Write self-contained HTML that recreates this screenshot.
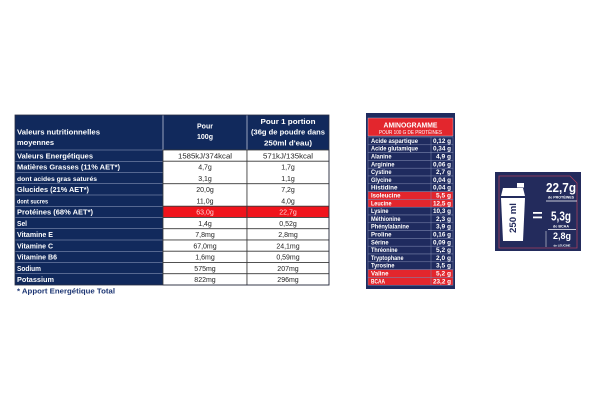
<!DOCTYPE html>
<html>
<head>
<meta charset="utf-8">
<style>
  html,body{margin:0;padding:0;background:#ffffff;}
  body{width:600px;height:408px;overflow:hidden;}
  svg{display:block;}
  text{font-family:"Liberation Sans", Arial, sans-serif;}
</style>
</head>
<body>
<svg width="600" height="408" viewBox="0 0 600 408" xmlns="http://www.w3.org/2000/svg">
  <rect x="0" y="0" width="600" height="408" fill="#ffffff"/>

  <!-- ============ LEFT NUTRITION TABLE ============ -->
  <!-- label column navy -->
  <rect x="15" y="115" width="148" height="170" fill="#11295c"/>
  <!-- header navy -->
  <rect x="15" y="115" width="314" height="35" fill="#11295c"/>
  <line x1="163" y1="115" x2="163" y2="150" stroke="#b9c0d6" stroke-width="0.8"/>
  <line x1="247" y1="115" x2="247" y2="150" stroke="#b9c0d6" stroke-width="0.8"/>

  <!-- label row separators -->
  <g stroke="#9aa6c6" stroke-width="0.6">
    <line x1="15" y1="150" x2="163" y2="150"/>
    <line x1="15" y1="161.25" x2="163" y2="161.25"/>
    <line x1="15" y1="172.5" x2="163" y2="172.5"/>
    <line x1="15" y1="183.75" x2="163" y2="183.75"/>
    <line x1="15" y1="195" x2="163" y2="195"/>
    <line x1="15" y1="206.25" x2="163" y2="206.25"/>
    <line x1="15" y1="217.5" x2="163" y2="217.5"/>
    <line x1="15" y1="228.75" x2="163" y2="228.75"/>
    <line x1="15" y1="240" x2="163" y2="240"/>
    <line x1="15" y1="251.25" x2="163" y2="251.25"/>
    <line x1="15" y1="262.5" x2="163" y2="262.5"/>
    <line x1="15" y1="273.75" x2="163" y2="273.75"/>
  </g>

  <!-- value cells -->
  <g stroke="#3a3a3a" stroke-width="0.8" fill="#ffffff">
    <rect x="163" y="150" width="84" height="11.25"/>
    <rect x="247" y="150" width="82" height="11.25"/>
    <rect x="163" y="161.25" width="84" height="22.5"/>
    <rect x="247" y="161.25" width="82" height="22.5"/>
    <rect x="163" y="183.75" width="84" height="22.5"/>
    <rect x="247" y="183.75" width="82" height="22.5"/>
    <rect x="163" y="206.25" width="84" height="11.25" fill="#f0141c"/>
    <rect x="247" y="206.25" width="82" height="11.25" fill="#f0141c"/>
    <rect x="163" y="217.5" width="84" height="11.25"/>
    <rect x="247" y="217.5" width="82" height="11.25"/>
    <rect x="163" y="228.75" width="84" height="11.25"/>
    <rect x="247" y="228.75" width="82" height="11.25"/>
    <rect x="163" y="240" width="84" height="11.25"/>
    <rect x="247" y="240" width="82" height="11.25"/>
    <rect x="163" y="251.25" width="84" height="11.25"/>
    <rect x="247" y="251.25" width="82" height="11.25"/>
    <rect x="163" y="262.5" width="84" height="11.25"/>
    <rect x="247" y="262.5" width="82" height="11.25"/>
    <rect x="163" y="273.75" width="84" height="11.25"/>
    <rect x="247" y="273.75" width="82" height="11.25"/>
  </g>
  <rect x="15" y="115" width="314" height="170" fill="none" stroke="#2a2f45" stroke-width="0.8"/>

  <!-- header text -->
  <g fill="#ffffff" font-weight="bold" font-size="7">
    <text x="17" y="134.5" textLength="83" lengthAdjust="spacingAndGlyphs">Valeurs nutritionnelles</text>
    <text x="17" y="145" textLength="37" lengthAdjust="spacingAndGlyphs">moyennes</text>
    <text x="205" y="128.5" text-anchor="middle">Pour</text>
    <text x="205" y="139" text-anchor="middle">100g</text>
    <text x="288" y="124" text-anchor="middle" textLength="55" lengthAdjust="spacingAndGlyphs">Pour 1 portion</text>
    <text x="288" y="134.5" text-anchor="middle" textLength="74" lengthAdjust="spacingAndGlyphs">(36g de poudre dans</text>
    <text x="288" y="145.5" text-anchor="middle" textLength="48" lengthAdjust="spacingAndGlyphs">250ml d'eau)</text>
  </g>

  <!-- label text -->
  <g fill="#ffffff" font-weight="bold" font-size="7">
    <text x="17" y="158.3" textLength="76" lengthAdjust="spacingAndGlyphs">Valeurs Energétiques</text>
    <text x="17" y="169.55" textLength="103" lengthAdjust="spacingAndGlyphs">Matières Grasses (11% AET*)</text>
    <text x="17" y="180.8" font-size="6.2" textLength="80" lengthAdjust="spacingAndGlyphs">dont acides gras saturés</text>
    <text x="17" y="192.05" textLength="72" lengthAdjust="spacingAndGlyphs">Glucides (21% AET*)</text>
    <text x="17" y="203.3" font-size="6.2" textLength="31" lengthAdjust="spacingAndGlyphs">dont sucres</text>
    <text x="17" y="214.55" textLength="76" lengthAdjust="spacingAndGlyphs">Protéines (68% AET*)</text>
    <text x="17" y="225.8" textLength="10" lengthAdjust="spacingAndGlyphs">Sel</text>
    <text x="17" y="237.05" textLength="36" lengthAdjust="spacingAndGlyphs">Vitamine E</text>
    <text x="17" y="248.3" textLength="36" lengthAdjust="spacingAndGlyphs">Vitamine C</text>
    <text x="17" y="259.55" textLength="40" lengthAdjust="spacingAndGlyphs">Vitamine B6</text>
    <text x="17" y="270.8" textLength="24" lengthAdjust="spacingAndGlyphs">Sodium</text>
    <text x="17" y="282.05" textLength="37" lengthAdjust="spacingAndGlyphs">Potassium</text>
  </g>

  <!-- values -->
  <g fill="#222222" font-size="7" text-anchor="middle">
    <text x="205" y="158.3" textLength="54" lengthAdjust="spacingAndGlyphs">1585kJ/374kcal</text>
    <text x="288" y="158.3" textLength="50" lengthAdjust="spacingAndGlyphs">571kJ/135kcal</text>
    <text x="205" y="169.55">4,7g</text>
    <text x="288" y="169.55">1,7g</text>
    <text x="205" y="180.8">3,1g</text>
    <text x="288" y="180.8">1,1g</text>
    <text x="205" y="192.05">20,0g</text>
    <text x="288" y="192.05">7,2g</text>
    <text x="205" y="203.3">11,0g</text>
    <text x="288" y="203.3">4,0g</text>
    <text x="205" y="214.55" fill="#ffd6d6">63,0g</text>
    <text x="288" y="214.55" fill="#ffd6d6">22,7g</text>
    <text x="205" y="225.8">1,4g</text>
    <text x="288" y="225.8">0,52g</text>
    <text x="205" y="237.05">7,8mg</text>
    <text x="288" y="237.05">2,8mg</text>
    <text x="205" y="248.3">67,0mg</text>
    <text x="288" y="248.3">24,1mg</text>
    <text x="205" y="259.55">1,6mg</text>
    <text x="288" y="259.55">0,59mg</text>
    <text x="205" y="270.8">575mg</text>
    <text x="288" y="270.8">207mg</text>
    <text x="205" y="282.05">822mg</text>
    <text x="288" y="282.05">296mg</text>
  </g>

  <!-- footnote -->
  <text x="17" y="293.5" fill="#1b3472" font-weight="bold" font-size="7" textLength="98" lengthAdjust="spacingAndGlyphs">* Apport Energétique Total</text>

  <!-- ============ AMINOGRAMME ============ -->
  <rect x="366" y="113" width="89" height="176" fill="#1f2b5f"/>
  <rect x="368" y="118" width="85" height="18" fill="#e3262d" stroke="#c9cde0" stroke-width="0.4"/>
  <text x="410.5" y="127.3" text-anchor="middle" fill="#ffffff" font-weight="bold" font-size="7.5" textLength="54" lengthAdjust="spacingAndGlyphs">AMINOGRAMME</text>
  <text x="410.5" y="134" text-anchor="middle" fill="#ffffff" font-size="5" textLength="63" lengthAdjust="spacingAndGlyphs">POUR 100 G DE PROTÉINES</text>

  <!-- rows -->
  <g stroke="#7d86ad" stroke-width="0.5">
    <rect x="368" y="137" width="85" height="7.8" fill="#1f2b5f"/>
    <rect x="368" y="144.8" width="85" height="7.8" fill="#1f2b5f"/>
    <rect x="368" y="152.6" width="85" height="7.8" fill="#1f2b5f"/>
    <rect x="368" y="160.4" width="85" height="7.8" fill="#1f2b5f"/>
    <rect x="368" y="168.2" width="85" height="7.8" fill="#1f2b5f"/>
    <rect x="368" y="176" width="85" height="7.8" fill="#1f2b5f"/>
    <rect x="368" y="183.8" width="85" height="7.8" fill="#1f2b5f"/>
    <rect x="368" y="191.6" width="85" height="7.8" fill="#e3262d"/>
    <rect x="368" y="199.4" width="85" height="7.8" fill="#e3262d"/>
    <rect x="368" y="207.2" width="85" height="7.8" fill="#1f2b5f"/>
    <rect x="368" y="215" width="85" height="7.8" fill="#1f2b5f"/>
    <rect x="368" y="222.8" width="85" height="7.8" fill="#1f2b5f"/>
    <rect x="368" y="230.6" width="85" height="7.8" fill="#1f2b5f"/>
    <rect x="368" y="238.4" width="85" height="7.8" fill="#1f2b5f"/>
    <rect x="368" y="246.2" width="85" height="7.8" fill="#1f2b5f"/>
    <rect x="368" y="254" width="85" height="7.8" fill="#1f2b5f"/>
    <rect x="368" y="261.8" width="85" height="7.8" fill="#1f2b5f"/>
    <rect x="368" y="269.6" width="85" height="7.8" fill="#e3262d"/>
    <rect x="368" y="277.4" width="85" height="7.8" fill="#e3262d"/>
    <line x1="431" y1="137" x2="431" y2="285.2"/>
  </g>

  <g fill="#ffffff" font-weight="bold" font-size="6">
    <text x="371" y="142.9" textLength="47" lengthAdjust="spacingAndGlyphs">Acide aspartique</text>
    <text x="371" y="150.7" textLength="47" lengthAdjust="spacingAndGlyphs">Acide glutamique</text>
    <text x="371" y="158.5" textLength="20.5" lengthAdjust="spacingAndGlyphs">Alanine</text>
    <text x="371" y="166.3" textLength="23.5" lengthAdjust="spacingAndGlyphs">Arginine</text>
    <text x="371" y="174.1" textLength="20.5" lengthAdjust="spacingAndGlyphs">Cystine</text>
    <text x="371" y="181.9" textLength="20.5" lengthAdjust="spacingAndGlyphs">Glycine</text>
    <text x="371" y="189.7" textLength="26.5" lengthAdjust="spacingAndGlyphs">Histidine</text>
    <text x="371" y="197.5" textLength="29.5" lengthAdjust="spacingAndGlyphs">Isoleucine</text>
    <text x="371" y="205.3" textLength="20.5" lengthAdjust="spacingAndGlyphs">Leucine</text>
    <text x="371" y="213.1" textLength="17.5" lengthAdjust="spacingAndGlyphs">Lysine</text>
    <text x="371" y="220.9" textLength="29.5" lengthAdjust="spacingAndGlyphs">Méthionine</text>
    <text x="371" y="228.7" textLength="38" lengthAdjust="spacingAndGlyphs">Phénylalanine</text>
    <text x="371" y="236.5" textLength="20.5" lengthAdjust="spacingAndGlyphs">Proline</text>
    <text x="371" y="244.3" textLength="17.5" lengthAdjust="spacingAndGlyphs">Sérine</text>
    <text x="371" y="252.1" textLength="26.5" lengthAdjust="spacingAndGlyphs">Thréonine</text>
    <text x="371" y="259.9" textLength="32.5" lengthAdjust="spacingAndGlyphs">Tryptophane</text>
    <text x="371" y="267.7" textLength="23.5" lengthAdjust="spacingAndGlyphs">Tyrosine</text>
    <text x="371" y="275.5" textLength="17.5" lengthAdjust="spacingAndGlyphs">Valine</text>
    <text x="371" y="283.3" textLength="14" lengthAdjust="spacingAndGlyphs">BCAA</text>
  </g>
  <g fill="#ffffff" font-weight="bold" font-size="6" text-anchor="end">
    <text x="451" y="142.9" textLength="18" lengthAdjust="spacingAndGlyphs">0,12 g</text>
    <text x="451" y="150.7" textLength="18" lengthAdjust="spacingAndGlyphs">0,34 g</text>
    <text x="451" y="158.5" textLength="15" lengthAdjust="spacingAndGlyphs">4,9 g</text>
    <text x="451" y="166.3" textLength="18" lengthAdjust="spacingAndGlyphs">0,06 g</text>
    <text x="451" y="174.1" textLength="15" lengthAdjust="spacingAndGlyphs">2,7 g</text>
    <text x="451" y="181.9" textLength="18" lengthAdjust="spacingAndGlyphs">0,04 g</text>
    <text x="451" y="189.7" textLength="18" lengthAdjust="spacingAndGlyphs">0,04 g</text>
    <text x="451" y="197.5" textLength="15" lengthAdjust="spacingAndGlyphs">5,5 g</text>
    <text x="451" y="205.3" textLength="18" lengthAdjust="spacingAndGlyphs">12,5 g</text>
    <text x="451" y="213.1" textLength="18" lengthAdjust="spacingAndGlyphs">10,3 g</text>
    <text x="451" y="220.9" textLength="15" lengthAdjust="spacingAndGlyphs">2,3 g</text>
    <text x="451" y="228.7" textLength="15" lengthAdjust="spacingAndGlyphs">3,9 g</text>
    <text x="451" y="236.5" textLength="18" lengthAdjust="spacingAndGlyphs">0,16 g</text>
    <text x="451" y="244.3" textLength="18" lengthAdjust="spacingAndGlyphs">0,09 g</text>
    <text x="451" y="252.1" textLength="15" lengthAdjust="spacingAndGlyphs">5,2 g</text>
    <text x="451" y="259.9" textLength="15" lengthAdjust="spacingAndGlyphs">2,0 g</text>
    <text x="451" y="267.7" textLength="15" lengthAdjust="spacingAndGlyphs">3,5 g</text>
    <text x="451" y="275.5" textLength="15" lengthAdjust="spacingAndGlyphs">5,2 g</text>
    <text x="451" y="283.3" textLength="18" lengthAdjust="spacingAndGlyphs">23,2 g</text>
  </g>

  <!-- ============ SHAKER PANEL ============ -->
  <rect x="495" y="172" width="86" height="79" fill="#232b5c"/>
  <path d="M499,176 L570,176 L577,183 L577,248 L499,248 Z" fill="none" stroke="#a8405e" stroke-width="0.8"/>
  <!-- shaker -->
  <rect x="517" y="183" width="7" height="4.5" fill="#ffffff"/>
  <polygon points="503,188 523,188 525,196 501,196" fill="#ffffff"/>
  <polygon points="501,198 525,198 523,241 503,241" fill="#ffffff"/>
  <text x="513" y="221" transform="rotate(-90 513 218)" text-anchor="middle" fill="#232b5c" font-weight="bold" font-size="9" textLength="30" lengthAdjust="spacingAndGlyphs">250 ml</text>
  <!-- equals -->
  <rect x="533" y="212" width="9" height="1.8" fill="#ffffff"/>
  <rect x="533" y="216.5" width="9" height="1.8" fill="#ffffff"/>
  <!-- values -->
  <g fill="#ffffff" font-weight="bold">
    <text x="546" y="192" font-size="12.5" textLength="30" lengthAdjust="spacingAndGlyphs">22,7g</text>
    <text x="561" y="198.5" font-size="3.2" text-anchor="middle" textLength="26" lengthAdjust="spacingAndGlyphs">de PROTÉINES</text>
    <text x="551" y="220.5" font-size="12.5" textLength="20" lengthAdjust="spacingAndGlyphs">5,3g</text>
    <text x="561" y="227.3" font-size="3.5" text-anchor="middle" textLength="16" lengthAdjust="spacingAndGlyphs">de BCAA</text>
    <text x="553" y="239" font-size="9.5" textLength="18" lengthAdjust="spacingAndGlyphs">2,8g</text>
    <text x="562" y="246.3" font-size="3" text-anchor="middle" textLength="17" lengthAdjust="spacingAndGlyphs">de LEUCINE</text>
  </g>
  <g stroke="#ffffff" stroke-width="0.7">
    <line x1="546" y1="201" x2="577" y2="201"/>
    <line x1="548" y1="229.5" x2="576" y2="229.5"/>
    <line x1="546" y1="231" x2="546" y2="247" stroke-width="0.5"/>
  </g>
</svg>
</body>
</html>
